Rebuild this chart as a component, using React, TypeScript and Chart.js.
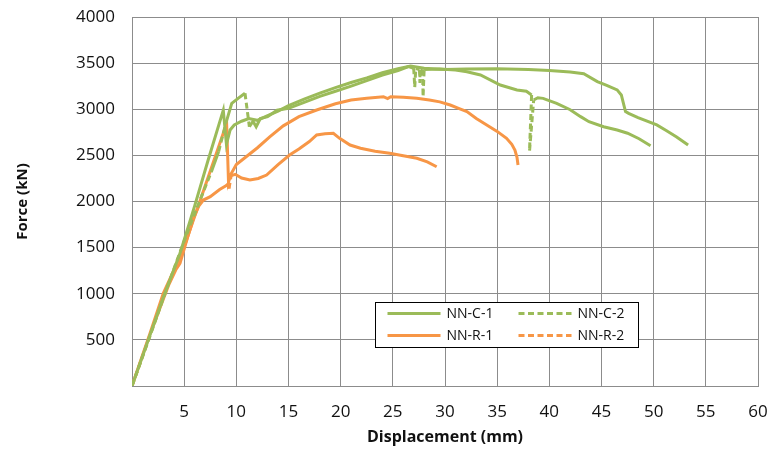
import React, { useEffect, useRef } from 'react';
import { Chart, registerables } from 'chart.js';

Chart.register(...registerables);

const xTickValues = [5, 10, 15, 20, 25, 30, 35, 40, 45, 50, 55, 60];
const yTickValues = [500, 1000, 1500, 2000, 2500, 3000, 3500, 4000];

const seriesLabels = ['NN-C-1', 'NN-C-2', 'NN-R-1', 'NN-R-2'];

const nnC1X = [0, 1.5, 3, 4.6, 6, 7.3, 8.75, 9.05, 9.4, 9.8, 10.5, 11.2, 12, 13, 14, 15, 16.5, 18, 19.5, 21, 22.5, 24, 25.5, 26.7, 28, 30, 32, 35, 38, 40, 42, 43.3, 44.6, 45.5, 46.5, 46.9, 47.3, 47.6, 48.5, 50.3, 51.2, 52.2, 53.3];
const nnC1Y = [0, 480, 960, 1438, 1950, 2450, 2990, 2620, 2775, 2830, 2870, 2900, 2880, 2930, 2980, 3040, 3110, 3175, 3235, 3290, 3340, 3395, 3440, 3468, 3445, 3430, 3435, 3438, 3432, 3420, 3405, 3385, 3300, 3260, 3210, 3155, 2975, 2955, 2910, 2830, 2770, 2700, 2612];

const nnC2X = [0, 1.5, 3, 4.5, 5.5, 6.5, 7.6, 8.3, 9.0, 9.56, 10.2, 10.83, 11.25, 11.6, 11.9, 12.3, 13, 13.9, 15, 16.5, 18, 19.5, 21, 22.5, 24, 25.5, 26.5, 27.0, 27.1, 27.2, 27.55, 27.6, 27.7, 27.85, 27.9, 28.0, 29.5, 31, 32.1, 33.4, 35.3, 36.9, 37.8, 38.3, 38.1, 38.5, 38.9, 39.4, 40.7, 42, 43, 43.8, 45.2, 46.5, 47.5, 48.6, 49.7];
const nnC2Y = [0, 470, 950, 1420, 1720, 2010, 2320, 2540, 2850, 3064, 3120, 3173, 2811, 2870, 2810, 2900, 2920, 2990, 3010, 3075, 3140, 3195, 3250, 3310, 3370, 3420, 3462, 3445, 3240, 3440, 3430, 3285, 3425, 3430, 3136, 3430, 3435, 3425, 3407, 3371, 3263, 3209, 3195, 3155, 2545, 3100, 3125, 3118, 3064, 2995, 2920, 2865, 2811, 2775, 2740, 2680, 2605];

const nnR1X = [0, 1.73, 3.0, 4.9, 6, 7, 8, 9.07, 9.25, 9.5, 10, 11, 12, 13.2, 14.5, 16, 17.7, 19.5, 21, 22.5, 24.1, 24.5, 24.8, 26, 27.3, 28.5, 29.5, 30.5, 31.3, 32.1, 33, 34, 35, 35.9, 36.4, 36.7, 36.9, 37.0];
const nnR1Y = [0, 571, 1005, 1474, 1836, 2165, 2494, 2847, 2210, 2300, 2400, 2490, 2580, 2700, 2820, 2920, 2992, 3060, 3100, 3120, 3136, 3115, 3135, 3130, 3118, 3100, 3080, 3046, 3010, 2974, 2900, 2829, 2760, 2685, 2620, 2558, 2480, 2396];

const nnR2X = [0, 1, 2, 2.8, 3.5, 4.2, 4.6, 5.3, 5.9, 6.4, 6.84, 7.5, 8.4, 9.0, 9.2, 9.3, 9.5, 9.9, 10.5, 11.3, 12.1, 12.9, 14, 15.1, 16, 17, 17.7, 18.5, 19.3, 19.9, 20.9, 21.9, 23.3, 24.7, 26, 27.3, 28.3, 29.2];
const nnR2Y = [0, 320, 640, 880, 1090, 1260, 1330, 1600, 1820, 1950, 2016, 2052, 2130, 2170, 2190, 2140, 2280, 2295, 2255, 2233, 2250, 2287, 2400, 2504, 2570, 2650, 2721, 2735, 2739, 2685, 2612, 2577, 2545, 2522, 2495, 2468, 2430, 2377];

const GREEN = '#9BBB59';
const ORANGE = '#F79646';
const GRID = '#8c8c8c';
const FONT = "'Open Sans', 'Noto Sans', sans-serif";
const DASH = [6, 3.5];

const toPoints = (xs: number[], ys: number[]) => xs.map((x, i) => ({ x, y: ys[i] }));

// Dense data drawn with a dash pattern looks solid except across long or steep jumps
const jumpDash = (ctx: any) => {
  const dx = Math.abs(ctx.p1.x - ctx.p0.x);
  const dy = Math.abs(ctx.p1.y - ctx.p0.y);
  const len = Math.hypot(dx, dy);
  if ((dy > 8 && dy > 4 * dx) || len > 28) return DASH;
  return undefined;
};

const legendBoxPlugin = {
  id: 'legendBox',
  afterDraw(chart: any) {
    const ctx = chart.ctx as CanvasRenderingContext2D;
    const left = 375.5, top = 302.5, w = 263, h = 45;
    ctx.save();
    ctx.fillStyle = '#ffffff';
    ctx.fillRect(left, top, w, h);
    ctx.strokeStyle = '#000000';
    ctx.lineWidth = 1;
    ctx.strokeRect(left, top, w, h);
    const cols = [left + 12, left + 143];
    const rows = [top + 11, top + 33];
    chart.data.datasets.forEach((ds: any, i: number) => {
      const cx = cols[i % 2];
      const cy = rows[Math.floor(i / 2)];
      ctx.beginPath();
      ctx.strokeStyle = ds.borderColor;
      ctx.lineWidth = ds.borderWidth;
      ctx.setLineDash(ds.legendDash ? DASH : []);
      ctx.moveTo(cx, cy);
      ctx.lineTo(cx + 53, cy);
      ctx.stroke();
      ctx.setLineDash([]);
      ctx.fillStyle = '#111111';
      ctx.font = `14px ${FONT}`;
      ctx.textBaseline = 'middle';
      ctx.textAlign = 'left';
      ctx.fillText(ds.label, cx + 59, cy + 1);
    });
    ctx.restore();
  },
};

export default function App() {
  const canvasRef = useRef<HTMLCanvasElement | null>(null);

  useEffect(() => {
    const canvas = canvasRef.current;
    if (!canvas) return;
    const mk = (i: number, xs: number[], ys: number[], color: string, dashed: boolean) => ({
      label: seriesLabels[i],
      data: toPoints(xs, ys),
      borderColor: color,
      backgroundColor: color,
      borderWidth: 3,
      pointRadius: 0,
      tension: 0,
      fill: false,
      legendDash: dashed,
      segment: dashed ? { borderDash: jumpDash } : undefined,
    });
    const chart = new Chart(canvas, {
      type: 'line',
      data: {
        datasets: [
          mk(0, nnC1X, nnC1Y, GREEN, false),
          mk(1, nnC2X, nnC2Y, GREEN, true),
          mk(2, nnR1X, nnR1Y, ORANGE, false),
          mk(3, nnR2X, nnR2Y, ORANGE, true),
        ] as any,
      },
      options: {
        responsive: false,
        animation: false,
        layout: { padding: { top: 17, right: 13, left: 0, bottom: 0 } },
        plugins: { legend: { display: false }, tooltip: { enabled: false } },
        scales: {
          x: {
            type: 'linear',
            min: 0,
            max: 60,
            afterBuildTicks: (s: any) => { s.ticks = [0, ...xTickValues].map((v) => ({ value: v })); },
            afterFit: (s: any) => { s.height = 65; s.paddingLeft = 0; s.paddingRight = 0; },
            grid: { color: GRID, lineWidth: 1, drawTicks: false },
            border: { color: GRID, width: 1 },
            ticks: {
              padding: 16,
              color: '#111111',
              font: { family: FONT, size: 17 },
              maxRotation: 0,
              callback: (v: any) => (v === 0 ? '' : String(v)),
            },
            title: {
              display: true,
              text: 'Displacement (mm)',
              color: '#111111',
              font: { family: FONT, size: 16, weight: 'bold' },
              padding: { top: 0, bottom: 4 },
            },
          },
          y: {
            type: 'linear',
            min: 0,
            max: 4000,
            afterBuildTicks: (s: any) => { s.ticks = [0, ...yTickValues].map((v) => ({ value: v })); },
            afterFit: (s: any) => { s.width = 132; s.paddingTop = 0; s.paddingBottom = 0; },
            grid: { color: GRID, lineWidth: 1, drawTicks: false },
            border: { color: GRID, width: 1 },
            ticks: {
              padding: 17,
              color: '#111111',
              font: { family: FONT, size: 17 },
              callback: (v: any) => (v === 0 ? '' : String(v)),
            },
            title: {
              display: true,
              text: 'Force (kN)',
              color: '#111111',
              font: { family: FONT, size: 15, weight: 'bold' },
              padding: { top: 14, bottom: 0 },
            },
          },
        },
      } as any,
      plugins: [legendBoxPlugin],
    });
    return () => chart.destroy();
  }, []);

  return (
    <div style={{ position: 'fixed', left: 0, top: 0, width: 771, height: 451, background: '#fff' }}>
      <canvas ref={canvasRef} width={771} height={451} style={{ width: 771, height: 451 }} />
    </div>
  );
}
